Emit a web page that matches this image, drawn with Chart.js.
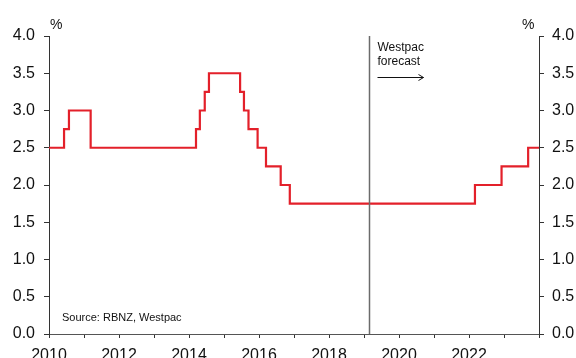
<!DOCTYPE html>
<html>
<head>
<meta charset="utf-8">
<script src="https://cdn.jsdelivr.net/npm/chart.js@4"></script>
<style>
  html, body { margin: 0; padding: 0; background: #fff; }
  #wrap { width: 576px; height: 358px; }
</style>
</head>
<body>
<div id="wrap"><canvas id="ocrChart" width="576" height="358"></canvas></div>
<script>
// OCR change dates (decimal years) and the new rate from that date
const changeDates = [2010, 2010.43, 2010.57, 2011.19, 2014.2, 2014.31, 2014.45, 2014.57,
  2015.46, 2015.57, 2015.7, 2015.96, 2016.2, 2016.62, 2016.88, 2022.17, 2022.93, 2023.69, 2024];
const ocrRates = [2.5, 2.75, 3.0, 2.5, 2.75, 3.0, 3.25, 3.5,
  3.25, 3.0, 2.75, 2.5, 2.25, 2.0, 1.75, 2.0, 2.25, 2.5, 2.5];
const forecastStart = 2019.14;
const yearMin = 2010;
const yearMax = 2024;

const FONT = "'Liberation Sans', Arial, sans-serif";

// forecast divider, arrow and the small texts
const annotations = {
  id: 'annotations',
  afterDatasetsDraw(chart) {
    const { ctx, chartArea, scales } = chart;
    const fx = Math.round(scales.x.getPixelForValue(forecastStart)) + 0.5;
    ctx.save();
    ctx.strokeStyle = '#6b6b6b';
    ctx.lineWidth = 1.5;
    ctx.beginPath();
    ctx.moveTo(fx, chartArea.top);
    ctx.lineTo(fx, chartArea.bottom);
    ctx.stroke();

    ctx.fillStyle = '#111';
    ctx.font = '12px ' + FONT;
    ctx.textAlign = 'left';
    ctx.textBaseline = 'alphabetic';
    ctx.fillText('Westpac', fx + 8, 51);
    ctx.fillText('forecast', fx + 8, 65);

    // arrow
    ctx.strokeStyle = '#111';
    ctx.lineWidth = 1;
    ctx.beginPath();
    ctx.moveTo(fx + 8, 77.5);
    ctx.lineTo(fx + 54, 77.5);
    ctx.moveTo(fx + 49, 74.5);
    ctx.lineTo(fx + 54, 77.5);
    ctx.lineTo(fx + 49, 80.5);
    ctx.stroke();

    ctx.font = '14px ' + FONT;
    ctx.fillText('%', chartArea.left + 1, 29);
    ctx.fillText('%', chartArea.right - 17, 29);

    ctx.font = '11px ' + FONT;
    ctx.fillText('Source: RBNZ, Westpac', chartArea.left + 13, 321);
    ctx.restore();
  }
};

const yAxis = (position, width, padding) => ({
  type: 'linear',
  position: position,
  min: 0,
  max: 4,
  afterFit: (s) => { s.width = width; },
  border: { display: true, color: '#333', width: 1 },
  grid: { drawOnChartArea: false, drawTicks: true, tickLength: 5, color: '#333' },
  ticks: {
    stepSize: 0.5,
    padding: padding,
    color: '#111',
    font: { family: FONT, size: 16 },
    callback: (v) => v.toFixed(1)
  }
});

new Chart(document.getElementById('ocrChart'), {
  type: 'line',
  data: {
    datasets: [{
      label: 'OCR',
      data: changeDates.map((d, i) => ({ x: d, y: ocrRates[i] })),
      borderColor: '#e3202a',
      borderWidth: 2.2,
      pointRadius: 0,
      stepped: 'before',
      fill: false
    }]
  },
  options: {
    responsive: false,
    animation: false,
    layout: { padding: { top: 36, left: 0, right: 0, bottom: 0 } },
    plugins: { legend: { display: false }, tooltip: { enabled: false } },
    scales: {
      x: {
        type: 'linear',
        min: yearMin,
        max: yearMax,
        afterFit: (s) => { s.height = 24; },
        border: { display: true, color: '#555', width: 1 },
        grid: { drawOnChartArea: false, drawTicks: true, tickLength: 4, color: '#333' },
        ticks: {
          stepSize: 1,
          autoSkip: false,
          maxRotation: 0,
          padding: 8,
          color: '#111',
          font: { family: FONT, size: 16 },
          callback: (v) => (v % 2 === 0 && v < yearMax ? String(v) : '')
        }
      },
      y: yAxis('left', 49, 9),
      y2: yAxis('right', 37, 8)
    }
  },
  plugins: [annotations]
});
</script>
</body>
</html>
